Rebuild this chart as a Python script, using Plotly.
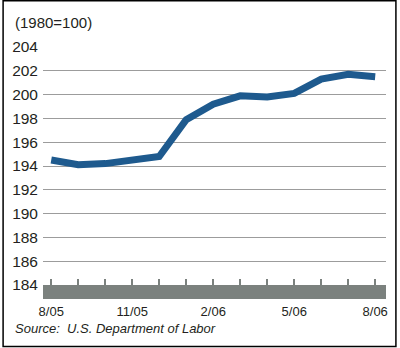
import plotly.graph_objects as go

months = ["8/05", "9/05", "10/05", "11/05", "12/05", "1/06", "2/06",
          "3/06", "4/06", "5/06", "6/06", "7/06", "8/06"]
values = [194.5, 194.1, 194.2, 194.5, 194.8, 197.9, 199.2,
          199.9, 199.8, 200.1, 201.3, 201.7, 201.5]
tick_text = ["8/05", "", "", "11/05", "", "", "2/06", "", "", "5/06", "", "", "8/06"]
y_ticks = list(range(184, 205, 2))

FONT = "Liberation Sans Narrow, Arial Narrow, Liberation Sans, sans-serif"
L, R, T, B = 41, 13, 47, 63
W, H = 400, 348
PW, PH = W - L - R, H - T - B

def px_x(x):
    return (x - L) / PW

def px_y(y):
    return 1 - (y - T) / PH

fig = go.Figure()
fig.add_trace(go.Scatter(
    x=months, y=values, mode="lines",
    line=dict(color="#1e5a8e", width=7), hoverinfo="skip",
))

fig.update_layout(
    width=W, height=H,
    margin=dict(l=L, r=R, t=T, b=B),
    paper_bgcolor="white", plot_bgcolor="white",
    showlegend=False,
    font=dict(family=FONT, size=15, color="#231f20"),
    xaxis=dict(
        type="category", range=[-0.305, 12.4],
        tickvals=months, ticktext=tick_text,
        ticks="inside", ticklen=6, tickwidth=2, tickcolor="#7b817e",
        showgrid=False, showline=False, zeroline=False,
        tickfont=dict(size=13), ticklabelstandoff=17,
    ),
    yaxis=dict(
        range=[184, 204], tickvals=y_ticks,
        showgrid=True, gridcolor="#9c9c9c", gridwidth=1.4,
        zeroline=False, showline=False, ticks="",
        tickfont=dict(size=15.5), ticklabelstandoff=4,
    ),
    shapes=[
        dict(type="rect", xref="paper", yref="paper",
             x0=0, x1=1, y0=px_y(299), y1=0,
             fillcolor="#7b817e", line=dict(width=0), layer="below"),
        dict(type="rect", xref="paper", yref="paper",
             x0=px_x(0.75), x1=px_x(397), y0=px_y(346.5), y1=px_y(0.75),
             line=dict(color="black", width=1.5), fillcolor="rgba(0,0,0,0)"),
    ],
    annotations=[
        dict(text="(1980=100)", xref="paper", yref="paper",
             x=px_x(11), y=px_y(22.5), xanchor="left", yanchor="middle",
             showarrow=False, font=dict(size=15)),
        dict(text="<i>Source:  U.S. Department of Labor</i>", xref="paper", yref="paper",
             x=px_x(11), y=px_y(328), xanchor="left", yanchor="middle",
             showarrow=False, font=dict(size=13)),
    ],
)

fig.write_html("out.html")
